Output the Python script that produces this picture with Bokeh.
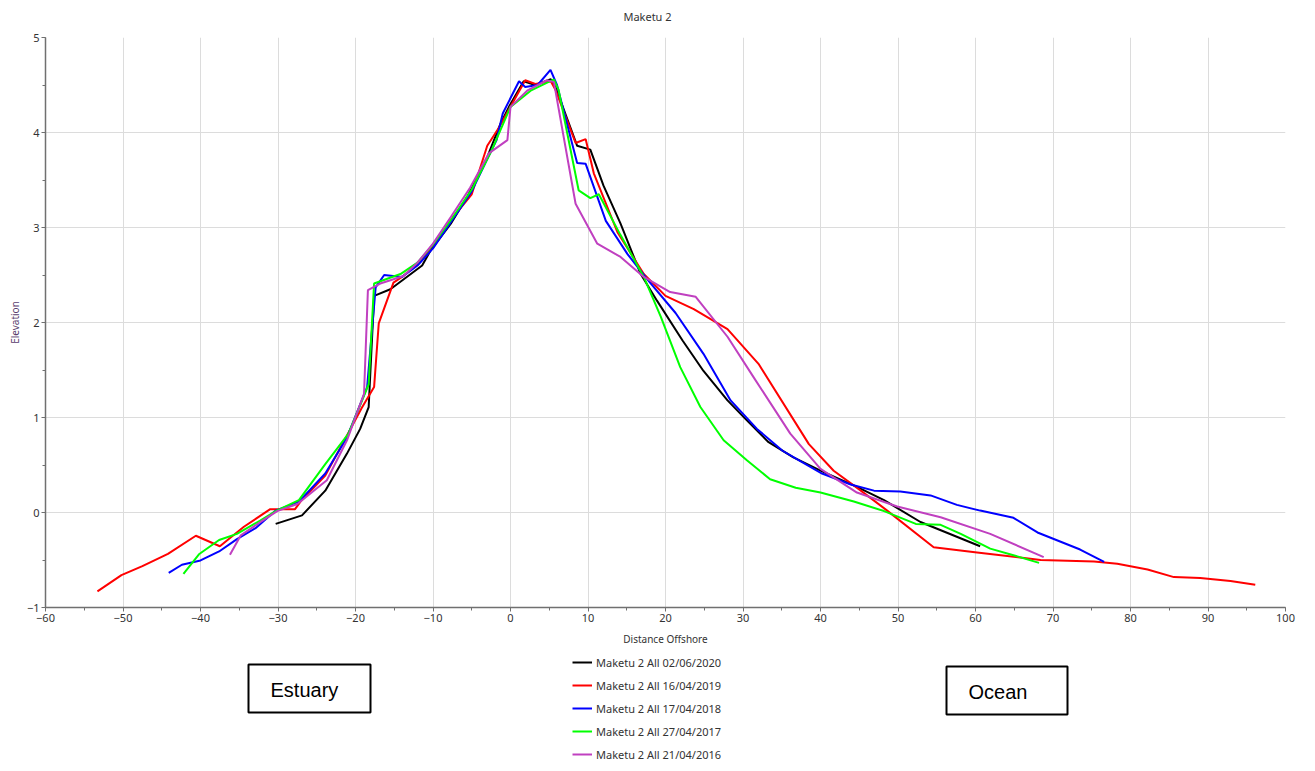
from bokeh.plotting import figure
from bokeh.layouts import column
from bokeh.models import Legend, LegendItem, SingleIntervalTicker, Range1d
from bokeh.core.properties import value
from bokeh.embed import file_html
from bokeh.resources import INLINE

# ---------------- data ----------------
x_2020 = [-30.3, -26.9, -23.9, -21.1, -19.4, -18.3, -17.6, -15.5, -11.4, -10.3, -7.7, -5.6, -3.0, -1.3, -0.2,
          1.7, 3.2, 5.2, 5.8, 8.6, 10.3, 12.0, 14.2, 16.8, 18.9, 22.2, 24.9, 28.0, 30.5, 33.3, 36.5, 40.0,
          44.7, 48.2, 52.9, 60.6]
y_2020 = [-0.12, -0.03, 0.23, 0.62, 0.88, 1.11, 2.28, 2.35, 2.6, 2.76, 3.04, 3.32, 3.74, 4.09, 4.27,
          4.54, 4.5, 4.56, 4.48, 3.86, 3.82, 3.44, 3.04, 2.51, 2.23, 1.81, 1.49, 1.18, 0.97, 0.74, 0.58, 0.44,
          0.27, 0.13, -0.10, -0.355]

x_2019 = [-53.3, -50.2, -47.5, -44.2, -40.6, -37.5, -34.4, -31.0, -27.8, -27.1, -23.9, -21.1, -19.2, -17.6,
          -17.0, -15.1, -14.0, -11.5, -10.0, -7.5, -5.0, -3.0, -1.5, 0.0, 1.9, 3.2, 5.2, 5.8, 8.4, 9.7, 10.75,
          13.8, 17.2, 20.0, 23.65, 28.0, 32.0, 38.5, 41.7, 45.2, 48.6, 54.6, 60.2, 68.4, 75.3, 78.3, 82.2,
          85.6, 89.0, 92.9, 96.1]
y_2019 = [-0.83, -0.66, -0.565, -0.435, -0.245, -0.355, -0.15, 0.035, 0.035, 0.115, 0.39, 0.81, 1.1, 1.32,
          1.99, 2.42, 2.48, 2.65, 2.82, 3.1, 3.35, 3.86, 4.05, 4.27, 4.55, 4.51, 4.54, 4.45, 3.89, 3.93, 3.57,
          2.95, 2.51, 2.28, 2.14, 1.93, 1.565, 0.72, 0.44, 0.23, 0.02, -0.365, -0.42, -0.50, -0.515, -0.54,
          -0.60, -0.68, -0.69, -0.72, -0.76]

x_2018 = [-44.1, -42.4, -40.0, -37.6, -35.3, -32.9, -30.3, -27.3, -23.9, -21.1, -18.5, -17.4, -16.3, -14.0,
          -12.0, -10.0, -7.5, -5.0, -3.0, -1.8, -1.0, 1.1, 1.9, 3.5, 5.16, 6.0, 8.6, 9.7, 12.3, 15.1, 17.6,
          21.3, 24.9, 28.4, 31.8, 35.1, 37.4, 40.2, 43.9, 46.9, 50.3, 54.2, 57.6, 60.6, 64.9, 68.0, 73.5, 76.6]
y_2018 = [-0.635, -0.55, -0.505, -0.41, -0.28, -0.165, 0.02, 0.115, 0.41, 0.79, 1.32, 2.37, 2.5, 2.48,
          2.6, 2.78, 3.08, 3.38, 3.72, 3.92, 4.2, 4.54, 4.48, 4.5, 4.66, 4.5, 3.68, 3.67, 3.07, 2.72, 2.46,
          2.1, 1.67, 1.18, 0.88, 0.65, 0.54, 0.41, 0.295, 0.23, 0.22, 0.18, 0.08, 0.02, -0.056, -0.21, -0.39,
          -0.52]

x_2017 = [-42.2, -40.2, -37.6, -35.3, -32.3, -30.3, -27.3, -23.9, -20.9, -18.3, -17.6, -14.2, -12.0, -10.0,
          -7.5, -5.0, -2.5, 0.0, 2.6, 5.6, 6.2, 8.8, 10.3, 11.4, 14.2, 17.2, 19.4, 21.9, 24.5, 27.5, 30.5,
          33.5, 36.8, 40.0, 44.3, 48.2, 52.3, 55.5, 58.1, 61.9, 64.9, 68.2]
y_2017 = [-0.645, -0.44, -0.29, -0.225, -0.085, 0.015, 0.13, 0.51, 0.83, 1.35, 2.41, 2.51, 2.63, 2.82,
          3.1, 3.4, 3.8, 4.27, 4.44, 4.56, 4.45, 3.39, 3.31, 3.35, 2.92, 2.48, 2.06, 1.53, 1.11, 0.76, 0.55,
          0.35, 0.26, 0.21, 0.115, 0.015, -0.12, -0.13, -0.225, -0.38, -0.45, -0.53]

x_2016 = [-36.2, -34.8, -32.0, -30.1, -27.5, -23.7, -21.1, -18.9, -18.4, -16.8, -13.8, -12.0, -10.0, -7.7,
          -5.2, -2.8, -0.4, 0.0, 2.15, 4.7, 5.6, 8.4, 11.2, 14.2, 17.2, 20.6, 23.9, 28.0, 31.4, 36.1, 40.0,
          44.7, 49.9, 55.5, 61.9, 68.8]
y_2016 = [-0.445, -0.24, -0.085, 0.015, 0.09, 0.34, 0.76, 1.25, 2.34, 2.41, 2.49, 2.63, 2.83, 3.11,
          3.42, 3.78, 3.92, 4.27, 4.44, 4.55, 4.53, 3.25, 2.83, 2.69, 2.48, 2.32, 2.27, 1.85, 1.42, 0.83, 0.46,
          0.21, 0.063, -0.05, -0.225, -0.47]

series_names = ["Maketu 2 All 02/06/2020", "Maketu 2 All 16/04/2019", "Maketu 2 All 17/04/2018",
                "Maketu 2 All 27/04/2017", "Maketu 2 All 21/04/2016"]
series_colors = ["#000000", "#ff0000", "#0000ff", "#00ff00", "#c040c0"]
series_x = [x_2020, x_2019, x_2018, x_2017, x_2016]
series_y = [y_2020, y_2019, y_2018, y_2017, y_2016]

title_text = "Maketu 2"
x_label = "Distance Offshore"
y_label = "Elevation"
annot_texts = ["Estuary", "Ocean"]

FONT = "Noto Sans"
W = 1299
H0 = 25          # header (title) strip
H1 = 625         # chart
H2 = 113         # legend / notes strip
FRAME_L, FRAME_R = 45, 1285
FRAME_T, FRAME_B = 37, 607


def strip(height, y_top):
    f = figure(width=W, height=height, output_backend="svg", toolbar_location=None,
               x_range=Range1d(FRAME_L, FRAME_R), y_range=Range1d(y_top + height, y_top),
               x_axis_type=None, y_axis_type=None,
               min_border_left=FRAME_L, min_border_right=W - FRAME_R,
               min_border_top=0, min_border_bottom=0)
    f.outline_line_color = None
    f.background_fill_color = "white"
    f.border_fill_color = "white"
    return f


# ---------------- header with title ----------------
p0 = strip(H0, 0)
p0.text(x=[647], y=[16], text=[title_text], text_font=value(FONT), text_font_size="11px",
        text_color="#333333", text_align="center", text_baseline="middle")

# ---------------- main chart ----------------
p = figure(width=W, height=H1, output_backend="svg", toolbar_location=None,
           x_range=Range1d(-60, 100), y_range=Range1d(-1, 5),
           min_border_left=FRAME_L, min_border_right=W - FRAME_R, min_border_top=FRAME_T - H0,
           min_border_bottom=H0 + H1 - FRAME_B)
p.outline_line_color = None
p.background_fill_color = "white"
p.border_fill_color = "white"

for ax, iv in ((p.xaxis[0], 10), (p.yaxis[0], 1)):
    ax.ticker = SingleIntervalTicker(interval=iv, num_minor_ticks=2)
    ax.axis_line_color = "#707070"
    ax.axis_line_width = 1.5
    ax.major_tick_line_color = "#707070"
    ax.minor_tick_line_color = "#707070"
    ax.major_tick_in = 0
    ax.major_tick_out = 4
    ax.minor_tick_in = 0
    ax.minor_tick_out = 3
    ax.major_label_text_font = FONT
    ax.major_label_text_font_size = "11px"
    ax.major_label_text_color = "#333333"
    ax.major_label_standoff = 2
    ax.axis_label_text_font = FONT
    ax.axis_label_text_font_size = "10px"
    ax.axis_label_text_font_style = "normal"

p.xaxis.axis_label = x_label
p.xaxis.axis_label_text_color = "#333333"
p.xaxis.axis_label_standoff = 7
p.yaxis.axis_label = y_label
p.yaxis.axis_label_text_color = "#5a3d6e"
p.yaxis.axis_label_standoff = 2

p.xgrid.grid_line_color = "#dcdcdc"
p.ygrid.grid_line_color = "#dcdcdc"

for col, xs, ys in zip(series_colors, series_x, series_y):
    p.line(xs, ys, line_color=col, line_width=2)

# ---------------- legend + notes strip ----------------
p2 = strip(H2, H0 + H1)

nan = float("nan")
items = []
for name, col in zip(series_names, series_colors):
    r = p2.line(x=[nan], y=[nan], line_color=col, line_width=2)
    items.append(LegendItem(label=name, renderers=[r]))

legend = Legend(items=items, location=(572 - FRAME_L, 0), orientation="vertical",
                glyph_width=20, glyph_height=18, label_height=18, label_standoff=4,
                spacing=5, padding=0, margin=0, border_line_color=None,
                background_fill_alpha=0, label_text_font=FONT, label_text_font_size="11px",
                label_text_color="#333333")
p2.add_layout(legend)

box_left = [248, 946]
box_right = [370, 1067]
box_top = [664, 666]
box_bottom = [712, 714]
p2.quad(left=box_left, right=box_right, top=box_top, bottom=box_bottom,
        fill_color="white", line_color="black", line_width=2)
p2.text(x=[l + 22 for l in box_left], y=[(t + b) / 2 + 1 for t, b in zip(box_top, box_bottom)],
        text=annot_texts, text_font=value("Liberation Sans"), text_font_size="20px",
        text_color="black", text_align="left", text_baseline="middle")

open("out.html", "w").write(file_html(column(p0, p, p2, spacing=0), INLINE))
